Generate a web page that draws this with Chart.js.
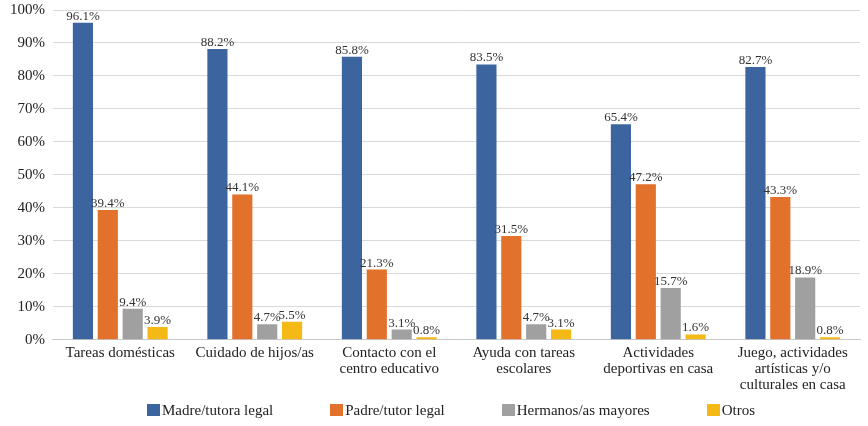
<!DOCTYPE html>
<html>
<head>
<meta charset="utf-8">
<script src="https://cdn.jsdelivr.net/npm/chart.js@4/dist/chart.umd.min.js"></script>
<style>
  html, body { margin: 0; padding: 0; background: #fff; }
  #wrap { position: relative; width: 868px; height: 426px; }
  #leyenda {
    position: absolute; top: 401px; left: 147px;
    display: flex; gap: 57px;
    font-family: 'Liberation Serif', 'DejaVu Serif', serif; font-size: 15px; color: #222;
    line-height: 18px;
  }
  #leyenda span.item { display: flex; align-items: center; white-space: nowrap; }
  #leyenda span.caja { display: inline-block; width: 13px; height: 12px; margin-right: 2px; }
</style>
</head>
<body>
<div id="wrap">
  <canvas id="grafico"></canvas>
  <div id="leyenda"></div>
</div>
<script>
// Datos
const categorias = [
  'Tareas domésticas',
  'Cuidado de hijos/as',
  ['Contacto con el', 'centro educativo'],
  ['Ayuda con tareas', 'escolares'],
  ['Actividades', 'deportivas en casa'],
  ['Juego, actividades', 'artísticas y/o', 'culturales en casa']
];
const series = ['Madre/tutora legal', 'Padre/tutor legal', 'Hermanos/as mayores', 'Otros'];
const madre = [96.1, 88.2, 85.8, 83.5, 65.4, 82.7];
const padre = [39.4, 44.1, 21.3, 31.5, 47.2, 43.3];
const hermanos = [9.4, 4.7, 3.1, 4.7, 15.7, 18.9];
const otros = [3.9, 5.5, 0.8, 3.1, 1.6, 0.8];
const ticksY = [0, 10, 20, 30, 40, 50, 60, 70, 80, 90, 100];

const colores = ['#3C649E', '#E1712B', '#A0A0A0', '#F4B915'];
const fuente = "'Liberation Serif', 'DejaVu Serif', serif";

// Etiquetas de valor encima de cada barra
const etiquetasBarras = {
  id: 'etiquetasBarras',
  afterDatasetsDraw(chart) {
    const ctx = chart.ctx;
    ctx.save();
    ctx.font = '13px ' + fuente;
    ctx.fillStyle = '#333';
    ctx.textAlign = 'center';
    ctx.textBaseline = 'bottom';
    chart.data.datasets.forEach((ds, i) => {
      const meta = chart.getDatasetMeta(i);
      meta.data.forEach((bar, j) => {
        ctx.fillText(ds.data[j].toFixed(1) + '%', bar.x, bar.y);
      });
    });
    ctx.restore();
  }
};

const ctx = document.getElementById('grafico').getContext('2d');
const chart = new Chart(ctx, {
  type: 'bar',
  data: {
    labels: categorias,
    datasets: [madre, padre, hermanos, otros].map((d, i) => ({
      label: series[i],
      data: d,
      backgroundColor: colores[i]
    }))
  },
  options: {
    responsive: true,
    maintainAspectRatio: false,
    animation: false,
    layout: { padding: { left: 2, right: 8, top: 0, bottom: 28 } },
    datasets: {
      bar: { categoryPercentage: 0.74, barPercentage: 0.81 }
    },
    scales: {
      x: {
        grid: { display: false, drawTicks: false },
        border: { color: '#C8C8C8', width: 1 },
        ticks: { color: '#222', font: { family: fuente, size: 15, lineHeight: 1.07 }, padding: 5, maxRotation: 0, autoSkip: false }
      },
      y: {
        min: 0,
        max: 100,
        afterBuildTicks(axis) { axis.ticks = ticksY.map(v => ({ value: v })); },
        afterFit(axis) { axis.paddingTop = 10; },
        grid: { color: '#D9D9D9', drawTicks: false },
        border: { display: false },
        ticks: { color: '#222', font: { family: fuente, size: 15 }, padding: 8, callback: v => v + '%' }
      }
    },
    plugins: {
      legend: { display: false },
      tooltip: { enabled: false }
    }
  },
  plugins: [etiquetasBarras]
});

// Leyenda en HTML
const leyenda = document.getElementById('leyenda');
chart.data.datasets.forEach(ds => {
  const item = document.createElement('span');
  item.className = 'item';
  const caja = document.createElement('span');
  caja.className = 'caja';
  caja.style.background = ds.backgroundColor;
  item.appendChild(caja);
  item.appendChild(document.createTextNode(ds.label));
  leyenda.appendChild(item);
});
</script>
</body>
</html>
